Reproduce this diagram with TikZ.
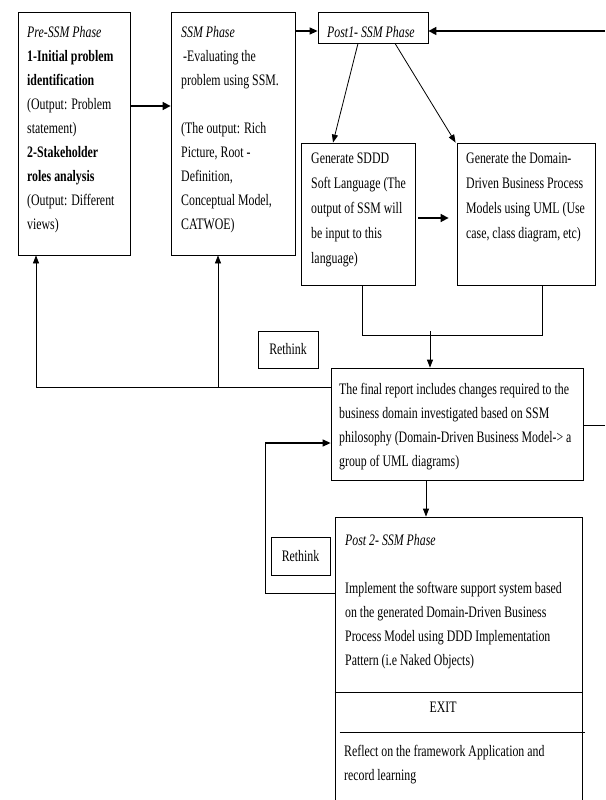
\documentclass[tikz,border=0pt]{standalone}
\usepackage{fontspec}
\setmainfont{Liberation Serif}[FakeStretch=0.74]
\usetikzlibrary{arrows.meta,calc}
\newcommand\fst{\rule{0pt}{12pt}}
\begin{document}
\begin{tikzpicture}[x=1pt,y=-1pt,
  box/.style={draw=black, line width=0.8pt, inner sep=0pt, rectangle},
  txt/.style={anchor=north west, inner sep=0pt, align=left, font=\fontsize{16}{24}\selectfont},
  wtxt/.style={txt, font=\fontsize{16}{25}\selectfont},
  ctxt/.style={inner sep=0pt, font=\fontsize{16}{24}\selectfont},
  conn/.style={line width=0.8pt},
  arr/.style={line width=0.8pt, -{Triangle[length=8pt,width=6pt]}},
  midarr/.style={line width=1.2pt, -{Triangle[length=8pt,width=7pt]}},
  thickarr/.style={line width=1.6pt, -{Triangle[length=8pt,width=8pt]}},
]
\useasboundingbox[fill=white] (0,0) rectangle (605,800);

% boxes
\node[box, minimum width=112pt, minimum height=243pt] (pre) at (74,133.5) {};
\node[box, minimum width=124pt, minimum height=243pt] (ssm) at (233,133.5) {};
\node[box, minimum width=110pt, minimum height=31pt] (post1) at (373,27.5) {};
\node[box, minimum width=114pt, minimum height=142pt] (sddd) at (358,214) {};
\node[box, minimum width=138pt, minimum height=142pt] (ddbp) at (526,214) {};
\node[box, minimum width=252pt, minimum height=112pt] (final) at (457,424) {};
\node[box, minimum width=60pt, minimum height=37pt, font=\fontsize{16}{24}\selectfont] (re1) at (288,349.5) {Rethink};
\node[box, minimum width=59pt, minimum height=38pt, font=\fontsize{16}{24}\selectfont] (re2) at (300.5,556) {Rethink};
\node[box, minimum width=247pt, minimum height=295pt] (post2) at (458.5,664.5) {};

% texts
\node[txt] (pret) at (27,25) {\fst\textit{Pre-SSM Phase}\\
\textbf{1-Initial problem}\\
\textbf{identification}\\
(Output: Problem\\
statement)\\
\textbf{2-Stakeholder}\\
\textbf{roles analysis}\\
(Output: Different\\
views)};

\node[txt] (ssmt) at (181,25) {\fst\textit{SSM Phase}\\
\hspace{2pt}-Evaluating the\\
problem using SSM.\\[24pt]
(The output: Rich\\
Picture, Root -\\
Definition,\\
Conceptual Model,\\
CATWOE)};

\node[txt] (post1t) at (327,25) {\fst\textit{Post1- SSM Phase}};

\node[wtxt] (sdddt) at (311,151) {\fst Generate SDDD\\
Soft Language (The\\
output of SSM will\\
be input to this\\
language)};

\node[wtxt] (ddbpt) at (466,151) {\fst Generate the Domain-\\
Driven Business Process\\
Models using UML (Use\\
case, class diagram, etc)};

\node[txt] (finalt) at (339,382) {\fst The final report includes changes required to the\\
business domain investigated based on SSM\\
philosophy (Domain-Driven Business Model-> a\\
group of UML diagrams)};

\node[txt] (post2t) at (345,533) {\fst\textit{Post 2- SSM Phase}\\[24pt]
Implement the software support system based\\
on the generated Domain-Driven Business\\
Process Model using DDD Implementation\\
Pattern (i.e Naked Objects)};

\node[ctxt, anchor=base] (exit) at (443,712) {EXIT};

\node[txt] (reflt) at (344,744) {\fst Reflect on the framework Application and\\
record learning};

% dividers in post 2 box
\coordinate (d1) at (0,692);
\coordinate (d2) at (0,732);
\draw[conn] (post2.west |- d1) -- (post2.east |- d1);
\draw[conn] ($(post2.west |- d2)+(5,0)$) -- ($(post2.east |- d2)+(3,0)$);

% connectors
\coordinate (y106) at (0,106);
\draw[thickarr] (pre.east |- y106) -- (ssm.west |- y106);

\coordinate (y31) at (0,31);
\draw[midarr] (ssm.east |- y31) -- (post1.west |- y31);
\coordinate (rin) at (605,31);
\draw[thickarr] (rin) -- (post1.east |- rin);

\draw[arr] ($(post1.south)+(-15,0)$) -- ($(sddd.north)+(-25,0)$);
\draw[arr] ($(post1.south)+(22,0)$) -- ($(ddbp.north west)+(-1,0)$);

\draw[thickarr] ($(sddd.east)+(3,4)$) -- ($(ddbp.west)+(-8,4)$);

\coordinate (ma) at ($(sddd.south)+(4,0)$);
\coordinate (mb) at ($(ddbp.south)+(16,0)$);
\coordinate (mrg) at (430,335);
\draw[conn] (ma) -- (ma |- mrg) -- (mb |- mrg) -- (mb);
\draw[arr] ($(mrg)+(0,-4)$) -- (mrg |- final.north);

\coordinate (lc) at (36,387);
\coordinate (sc) at (218,387);
\draw[conn] (final.west |- lc) -- (lc);
\draw[arr] (lc) -- (lc |- pre.south);
\draw[arr] (sc) -- (sc |- ssm.south);

\coordinate (rout) at (605,425);
\draw[conn] (final.east |- rout) -- (rout);

\coordinate (fp) at ($(final.south)+(-31,0)$);
\draw[arr] (fp) -- (fp |- post2.north);

\coordinate (lp) at (265,443);
\coordinate (y593) at (0,593);
\draw[conn] (post2.west |- y593) -| (lp);
\draw[midarr] (lp) -- (final.west |- lp);
\end{tikzpicture}
\end{document}
